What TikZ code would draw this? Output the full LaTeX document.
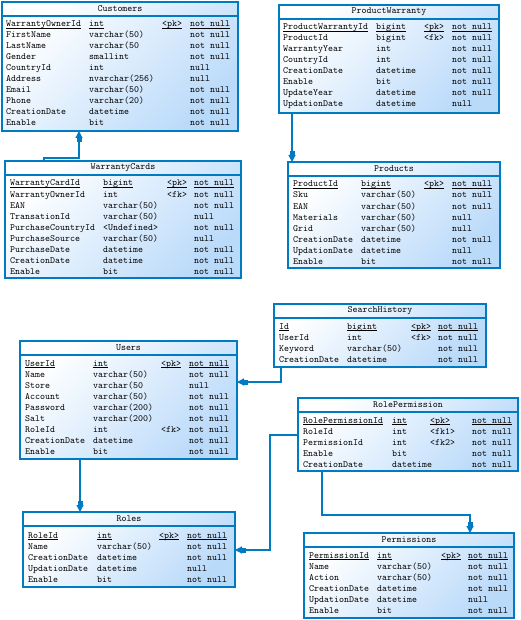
\documentclass[tikz,border=0pt]{standalone}
\usepackage{tikz}
\usetikzlibrary{arrows.meta}

\definecolor{tabblue}{RGB}{0,122,192}
\definecolor{tabtop}{RGB}{255,255,255}
\definecolor{tabmid}{RGB}{222,237,253}
\definecolor{tabbot}{RGB}{186,218,250}

\newcommand{\keyu}[1]{\underline{\smash{#1}}}

\newcommand{\dbtable}[6]{%
  \node[tabbox, minimum width=#4pt, minimum height=#5pt] (#1) at (#2,#3) {};
  \node[tabtitle] at ([yshift=-7pt]#1.north) {#6};
  \draw[tabline] ([yshift=-14pt]#1.north west) -- ([yshift=-14pt]#1.north east);
}

\newcommand{\tabrows}[6]{%
  \foreach \cname/\ctype/\ckey/\cnull [count=\r from 0] in {#6} {
    \node[cell] at (#1,#5+\r*11) {\cname};
    \node[cell] at (#2,#5+\r*11) {\ctype};
    \node[cell] at (#3,#5+\r*11) {\ckey};
    \node[cell] at (#4,#5+\r*11) {\cnull};
  }
}

\begin{document}
\begin{tikzpicture}[x=1pt, y=-1pt,
  tabbox/.style={draw=tabblue, line width=1.1pt, top color=tabtop, middle color=tabmid,
    bottom color=tabbot, shading angle=45, outer sep=0pt, inner sep=0pt, anchor=north west},
  tabline/.style={draw=tabblue, line width=1.1pt},
  tabtitle/.style={font=\fontsize{9.5pt}{11pt}\selectfont\ttfamily, inner sep=0pt},
  cell/.style={font=\fontsize{9.5pt}{11pt}\selectfont\ttfamily, inner sep=0pt, anchor=base west},
  fkline/.style={draw=tabblue, line width=1.2pt,
    -{Rectangle[length=4pt,width=5pt] Triangle[length=7pt,width=7pt]}}]

\useasboundingbox (0,0) rectangle (521,620);

\dbtable{cust}{2}{2}{236}{129}{Customers}
\tabrows{6}{89}{162}{190}{27}{
  \keyu{WarrantyOwnerId}/\keyu{int}/\keyu{<pk>}/\keyu{not null},
  FirstName/varchar(50)//not null,
  LastName/varchar(50//not null,
  Gender/smallint//not null,
  CountryId/int//null,
  Address/nvarchar(256)//null,
  Email/varchar(50)//not null,
  Phone/varchar(20)//not null,
  CreationDate/datetime//not null,
  Enable/bit//not null}

\dbtable{pwar}{279}{5}{220}{108}{ProductWarranty}
\tabrows{283}{376}{424}{452}{30}{
  \keyu{ProductWarrantyId}/\keyu{bigint}/\keyu{<pk>}/\keyu{not null},
  ProductId/bigint/<fk>/not null,
  WarrantyYear/int//not null,
  CountryId/int//not null,
  CreationDate/datetime//not null,
  Enable/bit//not null,
  UpdateYear/datetime//not null,
  UpdationDate/datetime//null}

\dbtable{prod}{288}{162}{212}{106}{Products}
\tabrows{293}{361}{424}{452}{187}{
  \keyu{ProductId}/\keyu{bigint}/\keyu{<pk>}/\keyu{not null},
  Sku/varchar(50)//not null,
  EAN/varchar(50)//not null,
  Materials/varchar(50)//null,
  Grid/varchar(50)//null,
  CreationDate/datetime//not null,
  UpdationDate/datetime//null,
  Enable/bit//not null}

\dbtable{wcard}{5}{161}{236}{117}{WarrantyCards}
\tabrows{10}{103}{167}{194}{186}{
  \keyu{WarrantyCardId}/\keyu{bigint}/\keyu{<pk>}/\keyu{not null},
  WarrantyOwnerId/int/<fk>/not null,
  EAN/varchar(50)//not null,
  TransationId/varchar(50)//null,
  PurchaseCountryId/<Undefined>//not null,
  PurchaseSource/varchar(50)//null,
  PurchaseDate/datetime//not null,
  CreationDate/datetime//not null,
  Enable/bit//not null}

\dbtable{shist}{274}{304}{212}{63}{SearchHistory}
\tabrows{279}{347}{411}{438}{329}{
  \keyu{Id}/\keyu{bigint}/\keyu{<pk>}/\keyu{not null},
  UserId/int/<fk>/not null,
  Keyword/varchar(50)//not null,
  CreationDate/datetime//not null}

\dbtable{users}{20}{341}{217}{118}{Users}
\tabrows{25}{93}{161}{189}{366}{
  \keyu{UserId}/\keyu{int}/\keyu{<pk>}/\keyu{not null},
  Name/varchar(50)//not null,
  Store/varchar(50//null,
  Account/varchar(50)//not null,
  Password/varchar(200)//not null,
  Salt/varchar(200)//not null,
  RoleId/int/<fk>/not null,
  CreationDate/datetime//not null,
  Enable/bit//not null}

\dbtable{rperm}{298}{398}{220}{73}{RolePermission}
\tabrows{303}{392}{430}{472}{423}{
  \keyu{RolePermissionId}/\keyu{int}/\keyu{<pk>}/\keyu{not null},
  RoleId/int/<fk1>/not null,
  PermissionId/int/<fk2>/not null,
  Enable/bit//not null,
  CreationDate/datetime//not null}

\dbtable{roles}{23}{512}{212}{75}{Roles}
\tabrows{28}{97}{159}{187}{538}{
  \keyu{RoleId}/\keyu{int}/\keyu{<pk>}/\keyu{not null},
  Name/varchar(50)//not null,
  CreationDate/datetime//not null,
  UpdationDate/datetime//null,
  Enable/bit//not null}

\dbtable{perm}{304}{533}{210}{85}{Permissions}
\tabrows{309}{377}{441}{468}{558}{
  \keyu{PermissionId}/\keyu{int}/\keyu{<pk>}/\keyu{not null},
  Name/varchar(50)//not null,
  Action/varchar(50)//not null,
  CreationDate/datetime//not null,
  UpdationDate/datetime//null,
  Enable/bit//not null}

\draw[fkline] ([xshift=39pt]wcard.north west) -- ++(0,-3) -| ([xshift=77pt]cust.south west);
\draw[fkline] ([xshift=13pt]pwar.south west) -- ([xshift=4pt]prod.north west);
\draw[fkline] ([xshift=7pt]shist.south west) |- ([yshift=-41pt]users.north east);
\draw[fkline] ([xshift=60pt]users.south west) -- ([xshift=57pt]roles.north west);
\draw[fkline] ([yshift=-37pt]rperm.north west) -- ++(-28,0) |- ([yshift=-38pt]roles.north east);
\draw[fkline] ([xshift=24pt]rperm.south west) -- ++(0,44) -| ([xshift=166pt]perm.north west);

\end{tikzpicture}
\end{document}
